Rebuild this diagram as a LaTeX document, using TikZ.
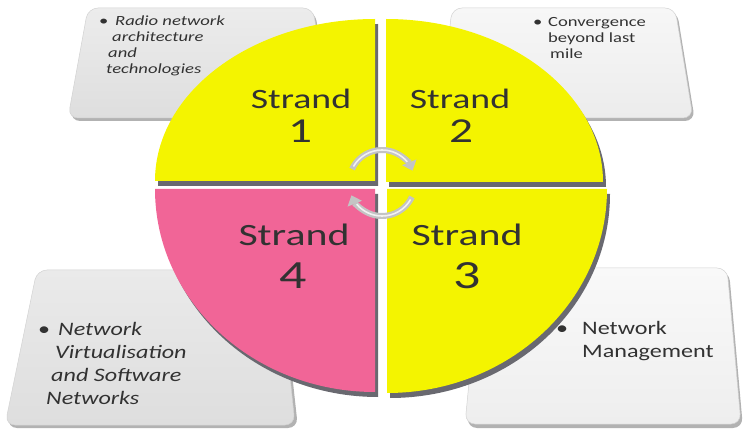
\documentclass[tikz,border=0pt]{standalone}
\usepackage{fontspec}
\setmainfont{Carlito}
\newfontfamily\boxfont[FakeStretch=1.33]{Carlito}
\newfontfamily\bigfont[FakeStretch=1.27]{Carlito}
\newfontfamily\strandfont[FakeStretch=1.35]{Carlito}
\usetikzlibrary{arrows.meta}
\definecolor{pieyellow}{RGB}{244,244,0}
\definecolor{piepink}{RGB}{241,101,151}
\definecolor{txt}{RGB}{50,50,50}
\definecolor{shade}{RGB}{105,105,112}
\definecolor{arcgray}{RGB}{196,196,196}
\begin{document}
\begin{tikzpicture}[x=1pt,y=-1pt]
\tikzset{
  card/.style={rounded corners=10pt, draw=gray!35, line width=0.5pt},
  cardshadow/.style={rounded corners=10pt, fill=black!30},
  pieshadow/.style={fill=shade},
  boxtext/.style={font=\boxfont\fontsize{14}{17}\selectfont, text=txt, inner sep=0pt, anchor=base west},
  bigtext/.style={font=\bigfont\fontsize{19}{23}\selectfont, text=txt, inner sep=0pt, anchor=base west},
  strandword/.style={font=\strandfont\fontsize{28}{30}\selectfont, text=txt, inner sep=0pt, anchor=base},
  strandnum/.style={font=\strandfont\fontsize{35}{36}\selectfont, text=txt, inner sep=0pt, anchor=base},
  cyc/.style={line width=6pt, draw=arcgray, -{Triangle[width=15pt,length=9pt]}},
  cychl/.style={line width=1.6pt, draw=white!90!gray},
}
\useasboundingbox (0,0) rectangle (744,430);

% ---- cards ----
\fill[cardshadow] (90,11) -- (315,11) -- (332,121) -- (70,121) -- cycle;
\shade[card, top color={rgb,255:red,236;green,236;blue,236}, bottom color={rgb,255:red,222;green,222;blue,222}]
  (88,8) -- (313,8) -- (330,118) -- (68,118) -- cycle;

\fill[cardshadow] (454,11) -- (677,11) -- (695,121) -- (442,121) -- cycle;
\shade[card, top color={rgb,255:red,247;green,247;blue,247}, bottom color={rgb,255:red,236;green,236;blue,236}]
  (452,8) -- (675,8) -- (693,118) -- (440,118) -- cycle;

\fill[cardshadow] (39,273) -- (281,273) -- (298,428) -- (7,428) -- cycle;
\shade[card, top color={rgb,255:red,234;green,234;blue,234}, bottom color={rgb,255:red,222;green,222;blue,222}]
  (37,270) -- (279,270) -- (295,425) -- (5,425) -- cycle;

\fill[cardshadow] (482,271) -- (729,271) -- (743,428) -- (467,428) -- cycle;
\shade[card, top color={rgb,255:red,249;green,249;blue,249}, bottom color={rgb,255:red,238;green,238;blue,238}]
  (480,268) -- (727,268) -- (741,424) -- (465,424) -- cycle;

% ---- pie shadows ----
\begin{scope}[shift={(3,5)}]
\fill[pieshadow] (375,181) -- (155,181) arc[start angle=180, end angle=90, x radius=220pt, y radius=162pt] -- cycle;
\fill[pieshadow] (386,182) -- (386,19) arc[start angle=90, end angle=0, x radius=217pt, y radius=163pt] -- cycle;
\fill[pieshadow] (375,189) -- (375,392) arc[start angle=270, end angle=180, x radius=220pt, y radius=203pt] -- cycle;
\fill[pieshadow] (387,189) -- (607,189) arc[start angle=0, end angle=-90, x radius=220pt, y radius=204pt] -- cycle;
\end{scope}

% ---- pie pieces ----
\fill[pieyellow] (375,181) -- (155,181) arc[start angle=180, end angle=90, x radius=220pt, y radius=162pt] -- cycle;
\fill[pieyellow] (386,182) -- (386,19) arc[start angle=90, end angle=0, x radius=217pt, y radius=163pt] -- cycle;
\fill[piepink] (375,189) -- (375,392) arc[start angle=270, end angle=180, x radius=220pt, y radius=203pt] -- cycle;
\fill[pieyellow] (387,189) -- (607,189) arc[start angle=0, end angle=-90, x radius=220pt, y radius=204pt] -- cycle;

% ---- strand labels ----
\node[strandword] (s1w) at (301,109) {Strand};
\node[strandnum]  (s1n) at (300,143) {1};
\node[strandword] (s2w) at (460,109) {Strand};
\node[strandnum]  (s2n) at (461,143) {2};
\node[strandword, font=\strandfont\fontsize{31}{32}\selectfont] (s4w) at (294,246) {Strand};
\node[strandnum, font=\strandfont\fontsize{40}{40}\selectfont]  (s4n) at (293,288) {4};
\node[strandword, font=\strandfont\fontsize{31}{32}\selectfont] (s3w) at (467,246) {Strand};
\node[strandnum, font=\strandfont\fontsize{40}{40}\selectfont]  (s3n) at (467,288) {3};

% ---- cycle arrows ----
\coordinate (hub) at (382,183);
\draw[cyc] ([shift={(155:33pt)}]hub) arc[start angle=155, end angle=22, radius=33pt];
\draw[cychl] ([shift={(150:33pt)}]hub) arc[start angle=150, end angle=40, radius=33pt];
\draw[cyc] ([shift={(-25:33pt)}]hub) arc[start angle=-25, end angle=-158, radius=33pt];
\draw[cychl] ([shift={(-30:33pt)}]hub) arc[start angle=-30, end angle=-140, radius=33pt];

% ---- card texts ----
\node[boxtext] (tlb) at (99,26) {\textbullet};
\node[boxtext] (tl1) at (115,26) {\itshape Radio network};
\node[boxtext] (tl2) at (112,42) {\itshape architecture};
\node[boxtext] (tl3) at (108,58) {\itshape and};
\node[boxtext] (tl4) at (106,74) {\itshape technologies};

\node[boxtext] (trb) at (533,27) {\textbullet};
\node[boxtext] (tr1) at (548,27) {Convergence};
\node[boxtext] (tr2) at (548,43) {beyond last};
\node[boxtext] (tr3) at (550,59) {mile};

\node[bigtext] (blb) at (38,335) {\textbullet};
\node[bigtext] (bl1) at (58,335) {\itshape Network};
\node[bigtext] (bl2) at (55,358) {\itshape Virtualisation};
\node[bigtext] (bl3) at (51,381) {\itshape and Software};
\node[bigtext] (bl4) at (46,404) {\itshape Networks};

\node[bigtext] (brb) at (556,334) {\textbullet};
\node[bigtext] (br1) at (582,334) {Network};
\node[bigtext] (br2) at (582,357) {Management};
\end{tikzpicture}
\end{document}
